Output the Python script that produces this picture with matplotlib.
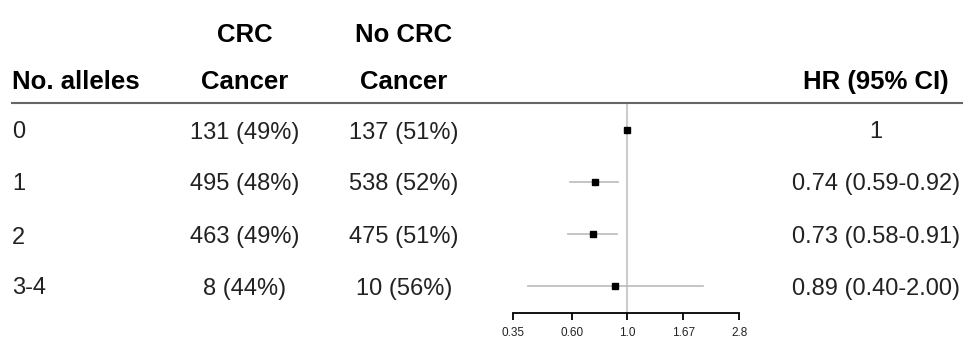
import numpy as np
import matplotlib
matplotlib.use("Agg")
import matplotlib.pyplot as plt
from matplotlib.lines import Line2D

plt.rcParams['font.family'] = ['Liberation Sans', 'DejaVu Sans']

# table data
alleles = ["0", "1", "2", "3-4"]
crc_cancer = ["131 (49%)", "495 (48%)", "463 (49%)", "8 (44%)"]
no_crc_cancer = ["137 (51%)", "538 (52%)", "475 (51%)", "10 (56%)"]
hr_labels = ["1", "0.74 (0.59-0.92)", "0.73 (0.58-0.91)", "0.89 (0.40-2.00)"]

# forest data
hr = [1.0, 0.74, 0.73, 0.89]
ci_low = [1.0, 0.59, 0.58, 0.40]
ci_high = [1.0, 0.92, 0.91, 2.00]
xticks = [0.35, 0.60, 1.0, 1.67, 2.8]
xtick_labels = ["0.35", "0.60", "1.0", "1.67", "2.8"]

W, H = 963, 341
fig = plt.figure(figsize=(W / 100, H / 100), dpi=100)

def fx(px):
    return px / W

def fy(py):
    return 1 - py / H

# forest axes, pixel box: x 513-739, y 103-313
ax = fig.add_axes([fx(513.3), fy(313), fx(739.3) - fx(513.3), fy(103) - fy(313)])
ax.set_xscale('log')
ax.set_xlim(0.35, 2.8)
rows = np.arange(len(hr))
ax.set_ylim(3.52, -0.52)

ax.axvline(1.0, color='#cccccc', lw=1.5, zorder=1)
for i in rows:
    ax.plot([ci_low[i], ci_high[i]], [i, i], color='#bbbbbb', lw=1.2, zorder=2)
ax.plot(hr, rows, 's', color='black', markersize=5, zorder=3)

for s in ['top', 'right', 'left']:
    ax.spines[s].set_visible(False)
ax.spines['bottom'].set_linewidth(1.3)
ax.set_yticks([])
ax.set_xticks(xticks)
ax.set_xticklabels(xtick_labels, fontsize=8.5, color='#222222')
ax.xaxis.set_minor_locator(matplotlib.ticker.NullLocator())
ax.tick_params(axis='x', length=5, width=1.3, pad=5)
ax.patch.set_alpha(0)

# header line across the table
fig.add_artist(Line2D([fx(12), fx(963)], [fy(103), fy(103)], color='#666666', lw=1.5))

hfs = 18.5
fs = 17
hoff = 9.2   # half cap height (px) so baseline sits under the row centre
off = 8.5

def head(x, y, s, ha='center'):
    fig.text(fx(x), fy(y + hoff), s, fontsize=hfs, fontweight='bold', ha=ha, va='baseline')

head(12, 80, "No. alleles", ha='left')
head(245, 33, "CRC")
head(245, 80, "Cancer")
head(404, 33, "No CRC")
head(404, 80, "Cancer")
head(876, 80, "HR (95% CI)")

row_y = [130, 182, 235, 286]
for i in rows:
    yb = fy(row_y[i] + off)
    fig.text(fx(12), yb, alleles[i], fontsize=fs, ha='left', va='baseline', color='#222222')
    fig.text(fx(245), yb, crc_cancer[i], fontsize=fs, ha='center', va='baseline', color='#222222')
    fig.text(fx(404), yb, no_crc_cancer[i], fontsize=fs, ha='center', va='baseline', color='#222222')
    fig.text(fx(876), yb, hr_labels[i], fontsize=fs, ha='center', va='baseline', color='#222222')

fig.savefig("out.png", dpi=100)
